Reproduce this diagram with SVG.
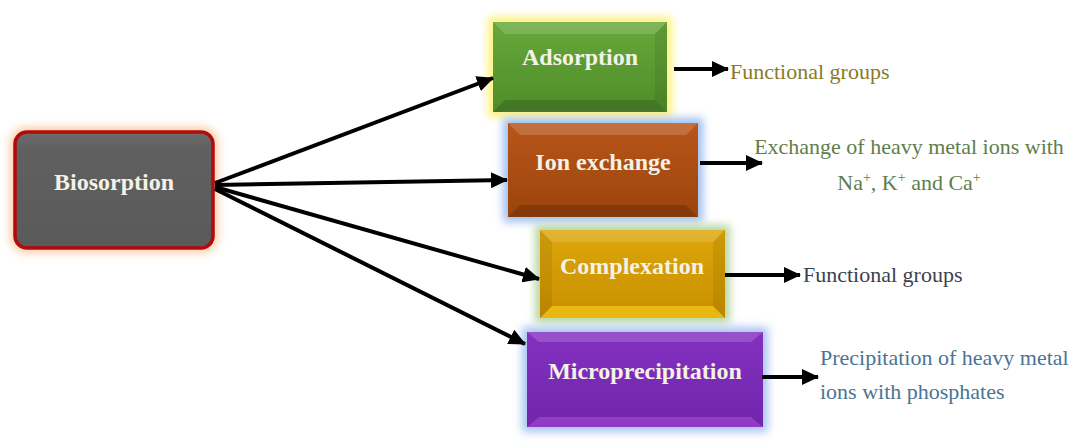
<svg xmlns="http://www.w3.org/2000/svg" width="1075" height="444" viewBox="0 0 1075 444">
<defs>
<style>
.lbl{font-family:"Liberation Serif","Times New Roman",serif;font-weight:bold;font-size:24px;fill:#f4f1e6;text-anchor:middle}
.desc{font-family:"Liberation Serif","Times New Roman",serif;font-size:22px}
.con{stroke:#000;stroke-width:4;fill:none;marker-end:url(#ah)}
.hi{fill:#fff;opacity:.16}
.lo{fill:#000;opacity:.16}
.sd{fill:#000;opacity:.07}
</style>
<marker id="ah" markerUnits="userSpaceOnUse" markerWidth="18" markerHeight="16" refX="16" refY="8" orient="auto">
<path d="M0,0 L17,8 L0,16 Z" fill="#000"/>
</marker>
<filter id="glow" x="-20%" y="-30%" width="140%" height="160%"><feGaussianBlur stdDeviation="4"/></filter>
<linearGradient id="gGray" x1="0" y1="0" x2="0" y2="1"><stop offset="0" stop-color="#6c6c6c"/><stop offset=".15" stop-color="#606060"/><stop offset="1" stop-color="#5a5a5a"/></linearGradient>
<linearGradient id="gGreen" x1="0" y1="0" x2="0" y2="1"><stop offset="0" stop-color="#67a83a"/><stop offset="1" stop-color="#4e8c2a"/></linearGradient>
<linearGradient id="gBrown" x1="0" y1="0" x2="0" y2="1"><stop offset="0" stop-color="#b8561a"/><stop offset="1" stop-color="#9c440c"/></linearGradient>
<linearGradient id="gGold" x1="0" y1="0" x2="0" y2="1"><stop offset="0" stop-color="#dca60a"/><stop offset="1" stop-color="#c89000"/></linearGradient>
<linearGradient id="gPurple" x1="0" y1="0" x2="0" y2="1"><stop offset="0" stop-color="#8430c0"/><stop offset="1" stop-color="#7026ac"/></linearGradient>
</defs>
<rect width="1075" height="444" fill="#fff"/>

<g id="node-biosorption">
<rect x="10" y="127" width="208" height="126" rx="16" fill="#f9b883" opacity=".7" filter="url(#glow)"/>
<rect x="15" y="132" width="198" height="116" rx="12" fill="url(#gGray)" stroke="#b30a0a" stroke-width="3.5"/>
<text class="lbl" x="114" y="190">Biosorption</text>
</g>

<g id="node-adsorption">
<rect x="488" y="17" width="184" height="100" fill="#fff27a" filter="url(#glow)"/>
<rect x="493" y="22" width="174" height="90" fill="url(#gGreen)"/>
<polygon class="hi" points="493,22 667,22 655,34 505,34"/>
<polygon class="lo" points="493,112 667,112 655,100 505,100"/>
<polygon class="sd" points="667,22 667,112 655,100 655,34"/>
<text class="lbl" x="580" y="65">Adsorption</text>
</g>

<g id="node-ion-exchange">
<rect x="503" y="118" width="200" height="104" fill="#9ec0f2" filter="url(#glow)"/>
<rect x="508" y="123" width="190" height="94" fill="url(#gBrown)"/>
<polygon class="hi" points="508,123 698,123 686,135 520,135"/>
<polygon class="lo" points="508,217 698,217 686,205 520,205"/>
<text class="lbl" x="603" y="170">Ion exchange</text>
</g>

<g id="node-complexation">
<rect x="535" y="225" width="195" height="98" fill="#b8d6a0" filter="url(#glow)"/>
<rect x="540" y="230" width="185" height="88" fill="url(#gGold)"/>
<polygon class="hi" points="540,230 725,230 713,242 552,242"/>
<polygon points="540,318 725,318 713,306 552,306" fill="#ffd21a" opacity=".6"/>
<polygon class="sd" points="540,230 552,242 552,306 540,318"/>
<polygon class="sd" points="725,230 713,242 713,306 725,318"/>
<text class="lbl" x="632" y="274">Complexation</text>
</g>

<g id="node-microprecipitation">
<rect x="522" y="327" width="246" height="105" fill="#a8c4f2" filter="url(#glow)"/>
<rect x="527" y="332" width="236" height="95" fill="url(#gPurple)"/>
<polygon class="hi" points="527,332 763,332 751,342 539,342"/>
<polygon points="527,427 763,427 751,417 539,417" fill="#b050e0" opacity=".5"/>
<text class="lbl" x="645" y="379">Microprecipitation</text>
</g>

<g id="connectors">
<line class="con" x1="215" y1="183" x2="493" y2="78"/>
<line class="con" x1="215" y1="185" x2="507" y2="180"/>
<line class="con" x1="215" y1="187" x2="539" y2="279"/>
<line class="con" x1="215" y1="189" x2="525" y2="344"/>
<line class="con" x1="674" y1="69" x2="728" y2="69"/>
<line class="con" x1="700" y1="163" x2="762" y2="163"/>
<line class="con" x1="725" y1="275" x2="800" y2="275"/>
<line class="con" x1="762" y1="377" x2="818" y2="377"/>
</g>

<g id="descriptions">
<text class="desc" x="730" y="79" fill="#8a7a28">Functional groups</text>
<text class="desc" x="909" y="154" fill="#5f7d4c" text-anchor="middle">Exchange of heavy metal ions with</text>
<text class="desc" x="909" y="190" fill="#5f7d4c" text-anchor="middle">Na<tspan font-size="14" dy="-8">+</tspan><tspan dy="8">, K</tspan><tspan font-size="14" dy="-8">+</tspan><tspan dy="8"> and Ca</tspan><tspan font-size="14" dy="-8">+</tspan></text>
<text class="desc" x="803" y="282" fill="#3c3f4e">Functional groups</text>
<text class="desc" x="820" y="365" fill="#4a7494">Precipitation of heavy metal</text>
<text class="desc" x="820" y="399" fill="#4a7494">ions with phosphates</text>
</g>
</svg>
